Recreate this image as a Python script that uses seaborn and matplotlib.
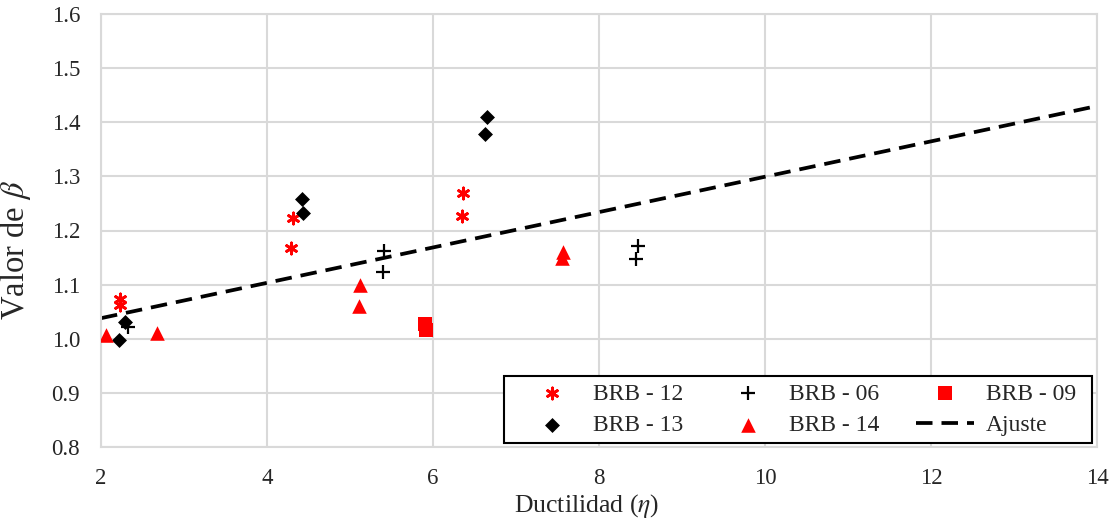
import matplotlib
matplotlib.use("Agg")
import matplotlib.pyplot as plt
from matplotlib.patches import Rectangle
from matplotlib.transforms import IdentityTransform
import seaborn as sns
import pandas as pd

# ---- data ----
brb12_x = [2.23, 2.23, 4.29, 4.31, 6.35, 6.36]
brb12_y = [1.073, 1.062, 1.168, 1.223, 1.227, 1.270]
brb06_x = [2.33, 5.41, 5.40, 8.47, 8.45]
brb06_y = [1.022, 1.162, 1.123, 1.171, 1.147]
brb09_x = [5.90, 5.91]
brb09_y = [1.027, 1.017]
brb13_x = [2.29, 2.22, 4.42, 4.43, 6.65, 6.63]
brb13_y = [1.031, 0.998, 1.258, 1.232, 1.410, 1.378]
brb14_x = [2.06, 2.67, 5.12, 5.11, 7.57, 7.55]
brb14_y = [1.007, 1.010, 1.099, 1.060, 1.160, 1.149]
ajuste_x = [2, 14]
ajuste_y = [1.038, 1.430]

x_ticks = [2, 4, 6, 8, 10, 12, 14]
y_ticks = [0.8, 0.9, 1.0, 1.1, 1.2, 1.3, 1.4, 1.5, 1.6]

sns.set_theme(style="white")
plt.rcParams['font.family'] = ['Liberation Serif', 'DejaVu Serif']
plt.rcParams['mathtext.fontset'] = 'stix'

fig = plt.figure(figsize=(11.17, 5.25), dpi=100)
ax = fig.add_axes([101/1117, 1-447/525, (1097-101)/1117, (447-14)/525])

sns.lineplot(x=ajuste_x, y=ajuste_y, ax=ax, color='black', linestyle=(0, (4.4, 2.4)),
             linewidth=2.7, label='Ajuste', zorder=2)

series = [
    ('BRB - 12', brb12_x, brb12_y, (6, 2, 0), 'red', 64, 2.0),
    ('BRB - 06', brb06_x, brb06_y, '+', 'black', 110, 1.6),
    ('BRB - 09', brb09_x, brb09_y, 's', 'red', 95, 0),
    ('BRB - 13', brb13_x, brb13_y, 'D', 'black', 58, 0),
    ('BRB - 14', brb14_x, brb14_y, '^', 'red', 110, 0),
]
for name, xs, ys, mk, col, s, lw in series:
    df = pd.DataFrame({'x': xs, 'y': ys})
    if mk in ('+',) or isinstance(mk, tuple):
        sns.scatterplot(data=df, x='x', y='y', ax=ax, marker=mk, color=col, s=s,
                        linewidth=lw, label=name, zorder=3)
    else:
        sns.scatterplot(data=df, x='x', y='y', ax=ax, marker=mk, color=col, s=s,
                        edgecolor=col, linewidth=0, label=name, zorder=3)

ax.set_xlim(2, 14)
ax.set_ylim(0.8, 1.6)
ax.set_xticks(x_ticks)
ax.set_yticks(y_ticks)
ax.set_yticklabels([f"{v:.1f}" for v in y_ticks])
ax.grid(True, color='#d9d9d9', linewidth=1.5)
ax.set_axisbelow(True)
for sp in ax.spines.values():
    sp.set_color('#d9d9d9')
    sp.set_linewidth(1.5)
ax.tick_params(axis='both', which='both', length=0, labelsize=16.5, pad=15)
ax.set_xlabel(r'Ductilidad ($\eta$)', fontsize=18.5)
ax.set_ylabel(r'Valor de $\beta$', fontsize=23.5)
ax.xaxis.set_label_coords(0.488, -0.105)
ax.yaxis.set_label_coords(-0.068, 0.455)

handles, labels = ax.get_legend_handles_labels()
hmap = dict(zip(labels, handles))
order = ['BRB - 12', 'BRB - 13', 'BRB - 06', 'BRB - 14', 'BRB - 09', 'Ajuste']
leg = ax.legend([hmap[k] for k in order], order, ncol=3, loc='lower right',
                bbox_to_anchor=(0.986, 0.009), borderaxespad=0, fontsize=17,
                frameon=False, borderpad=0.3, columnspacing=1.55, handlelength=2.45,
                handletextpad=0.5, labelspacing=0.42)
leg.set_zorder(6)

# legend frame: wider horizontal padding than vertical, like the reference
fig.canvas.draw()
bb = leg.get_window_extent()
frame = Rectangle((bb.x0 - 12, bb.y0), bb.width + 21, bb.height,
                  transform=IdentityTransform(), facecolor='white',
                  edgecolor='black', linewidth=1.5, zorder=5, clip_on=False)
ax.add_artist(frame)

fig.savefig('out.png', dpi=100)
